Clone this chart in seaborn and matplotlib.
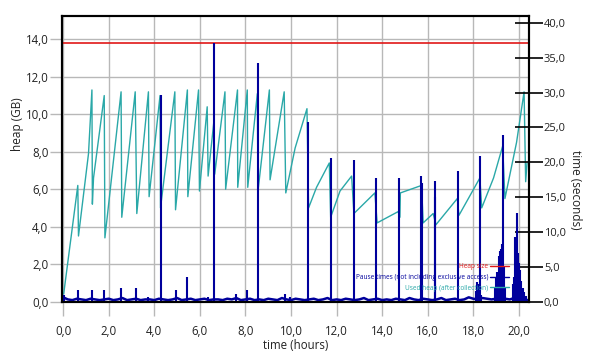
import numpy as np
import pandas as pd
import matplotlib
matplotlib.use("Agg")
import matplotlib.pyplot as plt
from matplotlib.ticker import FuncFormatter, MultipleLocator
import seaborn as sns

# --- data ---
# used heap after collection (GB) vs time (hours)
used_t = [0.02, 0.64, 0.67, 1.11, 1.26, 1.28, 1.33, 1.80, 1.83, 2.54, 2.57,
          3.16, 3.23, 3.74, 3.77, 4.25, 4.27, 4.90, 4.93, 5.45, 5.47, 5.94,
          5.98, 6.32, 6.36, 6.62, 6.65, 7.10, 7.13, 7.65, 7.66, 8.08, 8.10,
          8.52, 8.55, 9.05, 9.08, 9.70, 9.77, 10.18, 10.70, 10.77, 11.12,
          11.68, 11.74, 12.15, 12.66, 12.76, 13.68, 13.78, 14.70, 14.78,
          14.80, 15.73, 15.80, 16.24, 16.36, 17.30, 17.37, 18.29, 18.37,
          18.89, 19.29, 19.39, 19.90, 20.23, 20.30, 20.36]
used_gb = [0.4, 6.2, 3.5, 7.9, 11.3, 5.2, 6.6, 11.0, 3.4, 11.2, 4.5,
           11.2, 4.7, 11.2, 5.6, 11.0, 5.0, 11.2, 4.9, 11.3, 5.6, 11.3,
           5.9, 10.4, 6.7, 9.7, 6.8, 11.2, 6.0, 11.3, 6.1, 11.3, 6.1,
           11.1, 5.9, 11.3, 6.5, 11.2, 5.8, 8.2, 10.3, 5.0, 6.1,
           7.4, 4.5, 5.9, 6.7, 4.7, 5.8, 4.2, 4.8, 4.5,
           5.8, 6.2, 4.2, 4.7, 4.1, 5.5, 4.6, 6.6, 5.0,
           6.6, 8.3, 5.5, 8.5, 11.2, 6.4, 7.4]

heap_size_gb = 13.8

# pause times (seconds): background level sampled every 0.2 h
base_step = 0.2
base_s = [0.6, 0.3, 0.2, 0.4, 0.3, 0.2, 0.4, 0.3, 0.2, 0.3,
          0.4, 0.2, 0.3, 0.5, 0.2, 0.3, 0.4, 0.2, 0.3, 0.3,
          0.2, 0.4, 0.3, 0.2, 0.3, 0.5, 0.2, 0.3, 0.4, 0.2,
          0.3, 0.4, 0.2, 0.3, 0.3, 0.2, 0.4, 0.3, 0.5, 0.2,
          0.3, 0.4, 0.2, 0.3, 0.2, 0.4, 0.3, 0.2, 0.5, 0.3,
          0.2, 0.4, 0.3, 0.2, 0.3, 0.4, 0.2, 0.3, 0.5, 0.2,
          0.3, 0.2, 0.4, 0.3, 0.2, 0.3, 0.5, 0.2, 0.3, 0.4,
          0.2, 0.3, 0.2, 0.4, 0.3, 0.2, 0.5, 0.3, 0.2, 0.4,
          0.3, 0.2, 0.3, 0.5, 0.2, 0.3, 0.4, 0.2, 0.3, 0.6,
          0.4, 0.3, 0.5, 0.4, 0.3, 0.4, 0.6, 0.4, 0.3, 0.5,
          0.4, 0.3, 0.2]

# individual collection pauses (hours, seconds)
spike_t = [0.05, 0.67, 1.26, 1.81, 2.54, 3.19, 3.74, 4.94, 5.42, 6.37,
           7.57, 8.08, 9.74, 9.96,
           4.28, 6.62, 8.55, 10.75, 11.75, 12.76, 13.73, 14.74, 15.72,
           15.77, 16.30, 16.34, 17.34, 18.31, 19.31,
           18.11, 18.18, 18.22, 18.27, 18.36, 18.95, 18.99, 19.04, 19.08,
           19.12, 19.17, 19.21, 19.25, 19.34, 19.39, 19.74, 19.78, 19.85,
           19.93, 19.96, 20.00, 20.04, 20.11, 20.18, 20.24, 20.31]
spike_s = [1.0, 1.6, 1.6, 1.6, 1.9, 1.9, 0.7, 1.7, 3.5, 0.6,
           1.1, 1.6, 1.1, 0.6,
           29.6, 37.1, 34.2, 25.8, 20.6, 20.3, 17.8, 17.7, 18.0,
           17.0, 17.3, 15.0, 18.8, 20.9, 23.9,
           1.5, 2.8, 2.5, 1.8, 1.0, 2.0, 3.5, 4.2, 3.0,
           6.5, 7.3, 7.6, 8.3, 5.0, 2.0, 2.5, 3.5, 9.2,
           12.7, 6.9, 5.5, 4.5, 3.0, 2.0, 1.3, 0.8]

labels = ['Heap size', 'Pause times (not including exclusive access)',
          'Used heap (after collection)']

TEAL = '#2aa8a8'
NAVY = '#00009c'
RED = '#e01818'
GRID = '#b8b8b8'
INK = '#222222'

used_df = pd.DataFrame({'hours': used_t, 'gb': used_gb})
base_df = pd.DataFrame({'hours': np.arange(len(base_s)) * base_step, 'sec': base_s})

sns.set_style('white')
plt.rcParams['font.family'] = ['Open Sans', 'DejaVu Sans']

fig = plt.figure(figsize=(5.94, 3.63), dpi=100)
ax = fig.add_axes([0.1049, 0.1694, 0.7862, 0.7865])
ax2 = ax.twinx()

comma = FuncFormatter(lambda v, p: f'{v:.1f}'.replace('.', ','))

# left axis: heap
ax.set_axisbelow(True)
ax.grid(True, color=GRID, lw=1)
sns.lineplot(data=used_df, x='hours', y='gb', ax=ax, color=TEAL, lw=1,
             estimator=None, sort=False)
heap_line = ax.axhline(heap_size_gb, color=RED, lw=1.2)
used_line = ax.get_lines()[0]
ax.set_xlim(-0.04, 20.46)
ax.set_ylim(0, 15.25)
ax.xaxis.set_major_locator(MultipleLocator(2))
ax.set_yticks(np.arange(0, 15, 2))
ax.xaxis.set_major_formatter(comma)
ax.yaxis.set_major_formatter(comma)
ax.tick_params(axis='x', bottom=True, length=10, color=GRID, width=1, pad=7,
               labelsize=8.3, labelcolor=INK)
ax.tick_params(axis='y', left=True, length=9, color=GRID, width=1, pad=1,
               labelsize=8.3, labelcolor=INK)
ax.set_xlabel('time (hours)', fontsize=8.3, color=INK)
ax.set_ylabel('heap (GB)', fontsize=8.5, color=INK)
ax.xaxis.label.set_va('center')
ax.yaxis.label.set_va('center')
ax.xaxis.set_label_coords(0.5, -0.154)
ax.yaxis.set_label_coords(-0.095, 0.62)

# right axis: pause times
sns.lineplot(data=base_df, x='hours', y='sec', ax=ax2, color=NAVY, lw=1.8,
             estimator=None)
pause_line = ax2.get_lines()[0]
ax2.vlines(spike_t, 0, spike_s, color=NAVY, lw=1.5)
ax2.set_ylim(0, 41.0)
ax2.set_yticks(np.arange(0, 41, 5))
ax2.yaxis.set_major_formatter(comma)
ax2.tick_params(axis='y', right=True, labelright=True, direction='inout',
                length=20, width=1.2, color='black', pad=0.5, labelsize=8,
                labelcolor=INK)
ax2.set_ylabel('time (seconds)', fontsize=8.5, rotation=270, color=INK)
ax2.yaxis.label.set_va('center')
ax2.yaxis.set_label_coords(1.099, 0.39)
ax2.set_xlabel('')

for a in (ax, ax2):
    for side in ('left', 'top', 'right', 'bottom'):
        a.spines[side].set_color('black')
        a.spines[side].set_linewidth(1.5)

leg = ax2.legend([heap_line, pause_line, used_line], labels, loc='lower right',
                 bbox_to_anchor=(0.957, 0.035), frameon=False, fontsize=4.7,
                 markerfirst=False, handlelength=3.0, handletextpad=0.2,
                 labelspacing=0.55, labelcolor='linecolor', borderpad=0,
                 borderaxespad=0)
for h in leg.get_lines():
    h.set_linewidth(1)

fig.savefig('out.png', dpi=100)
